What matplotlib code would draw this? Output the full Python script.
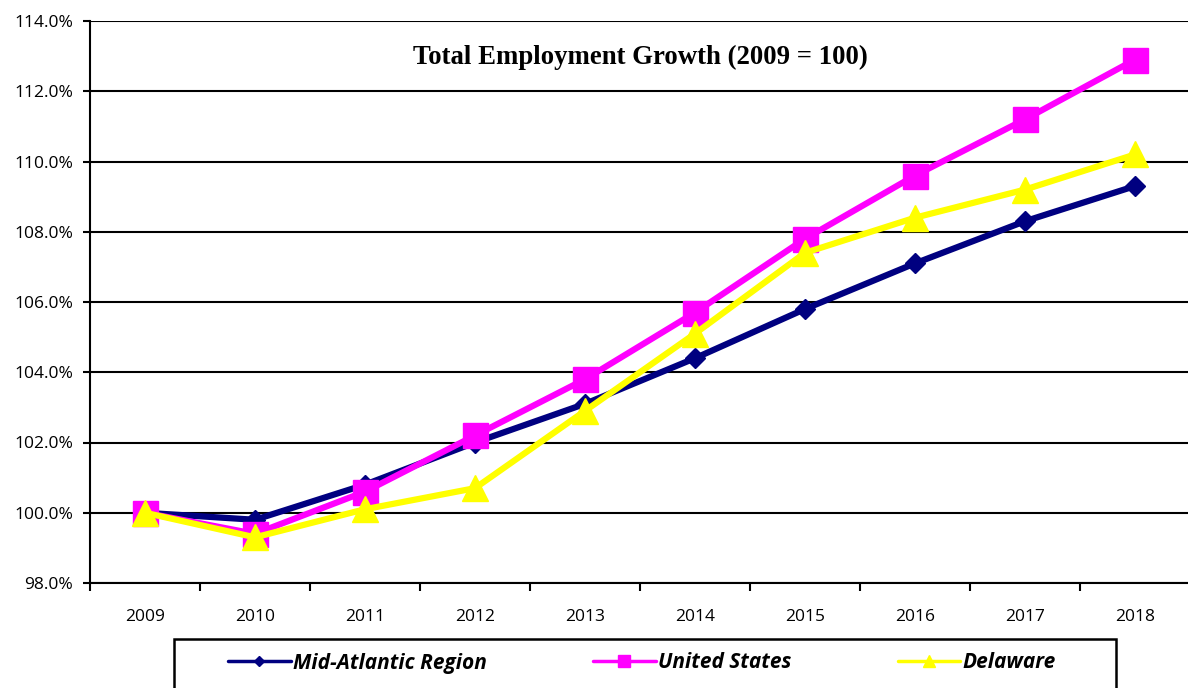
import numpy as np
import matplotlib.pyplot as plt
from matplotlib.ticker import FuncFormatter
from matplotlib.lines import Line2D
from matplotlib.patches import Rectangle

# data (index, 2009 = 100)
years = ["2009", "2010", "2011", "2012", "2013", "2014", "2015", "2016", "2017", "2018"]
mid_atlantic = [100.0, 99.8, 100.8, 102.0, 103.1, 104.4, 105.8, 107.1, 108.3, 109.3]
united_states = [100.0, 99.4, 100.6, 102.2, 103.8, 105.7, 107.8, 109.6, 111.2, 112.9]
delaware = [100.0, 99.3, 100.1, 100.7, 102.9, 105.1, 107.4, 108.4, 109.2, 110.2]

series = [
    ("Mid-Atlantic Region", mid_atlantic, "#000080", "D", 10.5),
    ("United States", united_states, "#FF00FF", "s", 18),
    ("Delaware", delaware, "#FFFF00", "^", 19),
]

fig = plt.figure(figsize=(11.88, 6.88), dpi=100)
ax = fig.add_axes([90/1188, 1 - 583/688, 1100/1188, 562/688])

x = np.arange(len(years))
handles = []
for i, (name, vals, col, mk, ms) in enumerate(series):
    ax.plot(x, vals, color=col, lw=4.5, marker=mk, ms=ms, zorder=3 + i)
    # legend keys are drawn thinner and smaller, like the original
    handles.append(Line2D([], [], color=col, lw=2.5, marker=mk, ms=ms * 0.45,
                          solid_capstyle="round", label=name))

ax.set_xlim(-0.5, len(years) - 0.5)
ax.set_ylim(98, 114)
ax.set_yticks(np.arange(98, 114.1, 2))
ax.yaxis.set_major_formatter(FuncFormatter(lambda v, p: "%.1f%%" % v))
ax.grid(axis="y", color="black", lw=1.5)
ax.set_axisbelow(True)

# category labels sit between boundary tick marks, Excel style
ax.set_xticks(x)
ax.set_xticklabels(years)
ax.set_xticks(np.arange(-0.5, len(years), 1), minor=True)
ax.tick_params(axis="x", which="major", length=0, pad=19)
ax.tick_params(axis="x", which="minor", length=6, width=1.5, direction="out")
ax.tick_params(axis="y", length=5, width=1.5, direction="out", pad=7)
for lab in ax.get_xticklabels() + ax.get_yticklabels():
    lab.set_fontfamily("Open Sans")
    lab.set_fontsize(12.5)

for s in ["top", "right"]:
    ax.spines[s].set_visible(False)
for s in ["left", "bottom"]:
    ax.spines[s].set_linewidth(1.5)

ax.text(0.5, 0.935, "Total Employment Growth (2009 = 100)", transform=ax.transAxes,
        ha="center", va="center", fontsize=19.3, fontweight="bold",
        fontfamily="Liberation Serif")

# legend box runs off the bottom of the picture
fig.patches.append(Rectangle((174/1188, -0.1), (1116 - 174)/1188, 0.1 + 1 - 639/688,
                             transform=fig.transFigure, fill=False, edgecolor="black",
                             lw=1.8))
fig.legend(handles=handles, loc="center", bbox_to_anchor=(642/1188, 1 - 663/688),
           ncol=3, frameon=False, handlelength=3.0, handletextpad=0.12,
           columnspacing=5.1, borderpad=0,
           prop={"family": "Open Sans", "weight": "bold", "style": "italic", "size": 15})

fig.savefig("out.png", dpi=100)
